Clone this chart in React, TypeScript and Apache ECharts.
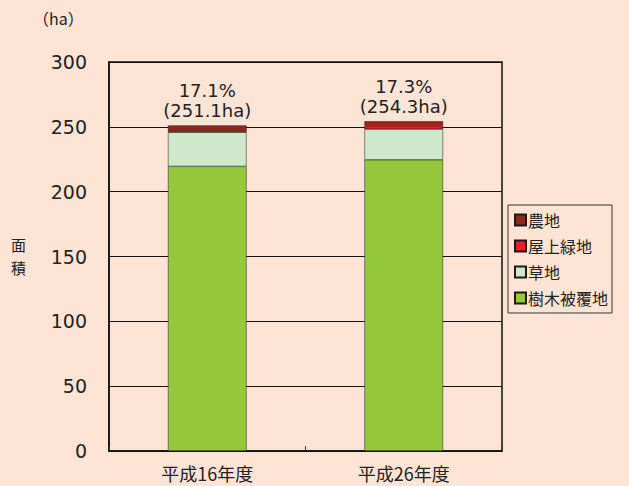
import React, { useEffect, useRef } from "react";
import * as echarts from "echarts";

const categories = ["平成16年度", "平成26年度"];
const treeCover = [219.5, 224.6];
const grass = [26.3, 23.6];
const rooftop = [0.6, 2.6];
const farmland = [4.7, 3.5];
const percentLabels = ["17.1%", "17.3%"];
const totalLabels = ["251.1", "254.3"];
const yTicks = [0, 50, 100, 150, 200, 250, 300];

const CJK = "'Noto Sans CJK JP', 'Noto Sans', sans-serif";
const NUM = "'DejaVu Sans', 'Noto Sans CJK JP', sans-serif";

export default function App() {
  const ref = useRef<HTMLDivElement>(null);
  useEffect(() => {
    if (!ref.current) return;
    const chart = echarts.init(ref.current, undefined, { renderer: "svg" });
    const border = { borderColor: "#1a1a1a", borderWidth: 0.5 };
    chart.setOption({
      animation: false,
      backgroundColor: "#FDE4D4",
      textStyle: { fontFamily: CJK },
      grid: {
        left: 109,
        top: 62,
        width: 393,
        height: 389,
        show: true,
        borderColor: "#111",
        borderWidth: 1.5,
        backgroundColor: "transparent",
      },
      legend: {
        orient: "vertical",
        left: 508,
        top: 205,
        width: 120,
        padding: [7, 4, 7, 6],
        itemWidth: 11,
        itemHeight: 11,
        itemGap: 10,
        borderColor: "#333",
        borderWidth: 1,
        data: ["農地", "屋上緑地", "草地", "樹木被覆地"],
        textStyle: { fontSize: 16, color: "#222", fontFamily: CJK, padding: [0, 0, 0, -3] },
        icon: "rect",
      },
      xAxis: {
        type: "category",
        data: categories,
        axisLine: { lineStyle: { color: "#111", width: 1.5 } },
        axisTick: { show: true, inside: true, length: 5, lineStyle: { color: "#333" } },
        axisLabel: { fontSize: 18, color: "#222", margin: 13, fontFamily: CJK },
      },
      yAxis: {
        type: "value",
        min: yTicks[0],
        max: yTicks[yTicks.length - 1],
        interval: 50,
        axisLine: { show: true, lineStyle: { color: "#111", width: 1.5 } },
        axisTick: { show: true, inside: true, length: 8, lineStyle: { color: "#111" } },
        splitLine: { lineStyle: { color: "#111", width: 1 } },
        axisLabel: { fontSize: 19, color: "#222", margin: 22, fontFamily: NUM },
      },
      graphic: [
        { type: "text", left: 33, top: 10, style: { text: "（ha）", fontSize: 16, fill: "#222", fontFamily: CJK } },
        { type: "text", left: 11, top: 237, style: { text: "面", fontSize: 15, fill: "#222", fontFamily: CJK } },
        { type: "text", left: 11, top: 260, style: { text: "積", fontSize: 15, fill: "#222", fontFamily: CJK } },
      ],
      series: [
        {
          name: "樹木被覆地",
          type: "bar",
          stack: "a",
          barWidth: "40%",
          data: treeCover,
          itemStyle: { color: "#96C83C", ...border },
        },
        {
          name: "草地",
          type: "bar",
          stack: "a",
          data: grass,
          itemStyle: { color: "#CFE8CC", ...border },
        },
        {
          name: "屋上緑地",
          type: "bar",
          stack: "a",
          data: rooftop,
          itemStyle: { color: "#EE1C24", ...border },
        },
        {
          name: "農地",
          type: "bar",
          stack: "a",
          data: farmland,
          itemStyle: { color: "#8B2A1C", ...border },
          label: {
            show: true,
            position: "top",
            distance: 5,
            formatter: (p: any) =>
              `${percentLabels[p.dataIndex]}\n(${totalLabels[p.dataIndex]}ha)`,
            fontSize: 18,
            lineHeight: 20,
            color: "#222",
            fontFamily: NUM,
          },
        },
      ],
    });
    return () => chart.dispose();
  }, []);
  return (
    <div
      ref={ref}
      style={{ position: "fixed", left: 0, top: 0, width: 629, height: 486 }}
    />
  );
}
